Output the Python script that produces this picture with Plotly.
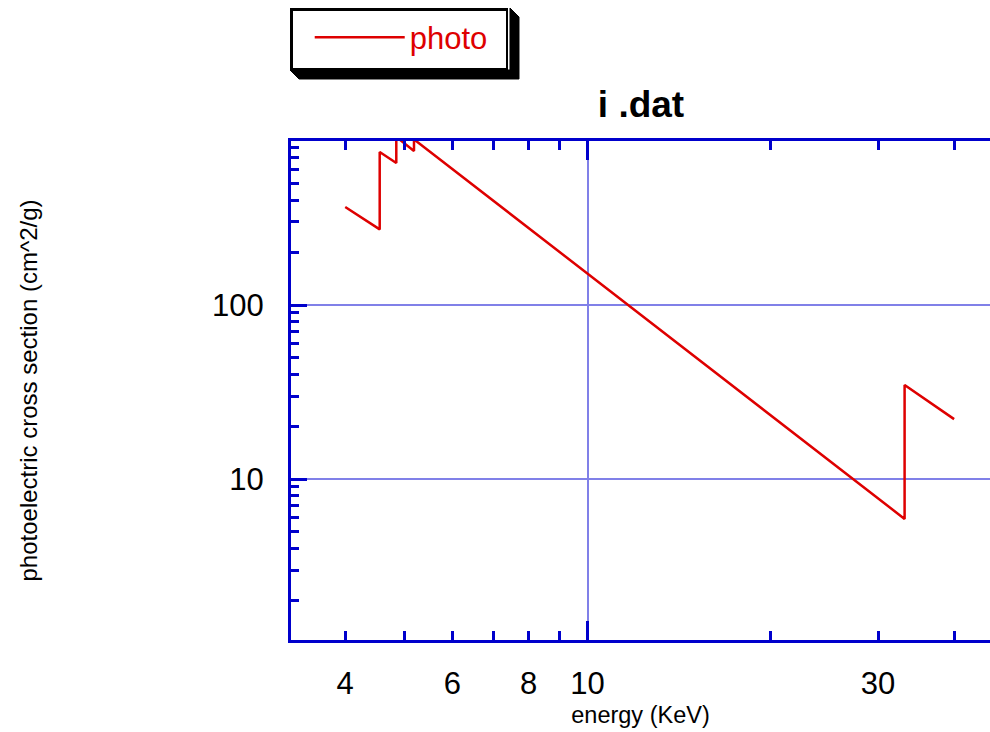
import plotly.graph_objects as go

# ---- data ----
energy = [4.0, 4.2, 4.4, 4.557, 4.557, 4.7, 4.852, 4.852, 5.0, 5.188, 5.188,
          5.5, 6.0, 6.5, 7.0, 8.0, 9.0, 10.0, 12.0, 14.0, 16.0, 18.0, 20.0,
          22.0, 25.0, 28.0, 30.0, 33.17, 33.17, 35.0, 38.0, 40.0]
photo = [366, 327, 294, 272, 757, 705, 655, 925, 851, 768, 895,
         764, 604, 486, 398, 277, 201, 152, 92.5, 61.0, 42.4, 30.9, 23.2,
         17.9, 12.7, 9.34, 7.74, 5.9, 34.7, 30.5, 25.0, 22.1]

x_major = [10]
x_minor = [4, 5, 6, 7, 8, 9, 20, 30, 40]
x_labels = [4, 6, 8, 10, 30]
y_major = [10, 100]
y_minor = [2, 3, 4, 5, 6, 7, 8, 9, 20, 30, 40, 50, 60, 70, 80, 90,
           200, 300, 400, 500, 600, 700, 800]

# ---- layout constants ----
W, H = 990, 732
L, R, T, B = 291, 0, 141, 92
PW, PH = W - L - R, H - T - B
AXC = "rgb(0,0,204)"
GRC = "rgb(128,128,232)"
FONT = "Liberation Sans, Arial, sans-serif"
XR = [0.513, 1.661]


def px_x(p):
    return (p - L) / PW


def px_y(p):
    return (H - B - p) / PH


fig = go.Figure()
fig.add_trace(go.Scatter(x=energy, y=photo, mode="lines", name="photo",
                         line=dict(color="rgb(222,0,0)", width=2.5)))
# carrier for the label axis (draws nothing)
fig.add_trace(go.Scatter(x=x_labels, y=[None] * len(x_labels), xaxis="x2",
                         mode="lines", showlegend=False, hoverinfo="skip"))

common = dict(type="log", showline=True, linecolor=AXC, linewidth=3,
              ticks="inside", tickcolor=AXC, tickwidth=2.5, zeroline=False)

fig.update_layout(
    width=W, height=H,
    margin=dict(l=L, r=R, t=T, b=B, autoexpand=False),
    plot_bgcolor="white", paper_bgcolor="white",
    font=dict(family=FONT, color="black"),
    title=dict(text="<b>i .dat</b>", font=dict(size=37, family=FONT, color="black"),
               x=px_x(641), xref="paper", xanchor="center",
               y=1 - 104 / H, yanchor="middle"),
    xaxis=dict(**common, range=XR, mirror="ticks",
               tickvals=x_major, ticklen=19, showticklabels=False,
               showgrid=True, gridcolor=GRC, gridwidth=2,
               minor=dict(tickvals=x_minor, ticks="inside", ticklen=9,
                          tickwidth=2.5, tickcolor=AXC, showgrid=False)),
    xaxis2=dict(type="log", overlaying="x", anchor="y", side="bottom",
                range=XR, showline=False, showgrid=False,
                zeroline=False, ticks="", tickvals=x_labels,
                ticktext=[str(v) for v in x_labels],
                tickfont=dict(size=31, family=FONT, color="black"),
                ticklabelstandoff=22,
                title=dict(text="energy (KeV)", standoff=6,
                           font=dict(size=23.5, family=FONT, color="black"))),
    yaxis=dict(**common, range=[0.075, 2.9425], mirror=False,
               tickvals=y_major, ticktext=[str(v) for v in y_major],
               ticklen=16, showgrid=True, gridcolor=GRC, gridwidth=2,
               tickfont=dict(size=31, family=FONT, color="black"),
               ticklabelstandoff=18,
               minor=dict(tickvals=y_minor, ticks="inside", ticklen=8,
                          tickwidth=2.5, tickcolor=AXC, showgrid=False),
               title=dict(text="photoelectric cross section (cm^2/g)",
                          standoff=168,
                          font=dict(size=24, family=FONT, color="black"))),
    showlegend=True,
    legend=dict(xref="container", yref="container",
                x=290 / W, y=1 - 8 / H, xanchor="left", yanchor="top",
                bgcolor="white", bordercolor="black", borderwidth=2.5,
                orientation="h", entrywidth=90, itemwidth=90,
                title=dict(text="\u2009", side="left",
                           font=dict(size=36, family=FONT)),
                font=dict(size=31, family=FONT, color="rgb(222,0,0)")),
)

# legend drop shadow (decoration)
pts = [(290, 70), (299, 79), (519, 79), (519, 17), (510, 8), (510, 70)]
path = "M " + " L ".join(f"{px_x(a):.5f},{px_y(b):.5f}" for a, b in pts) + " Z"
fig.add_shape(type="path", path=path, xref="paper", yref="paper",
              fillcolor="black", line=dict(color="black", width=1), layer="above")

fig.write_html("out.html", config={"displayModeBar": False},
               post_script="document.body.style.margin='0';"
                           "document.body.style.overflow='hidden';")
